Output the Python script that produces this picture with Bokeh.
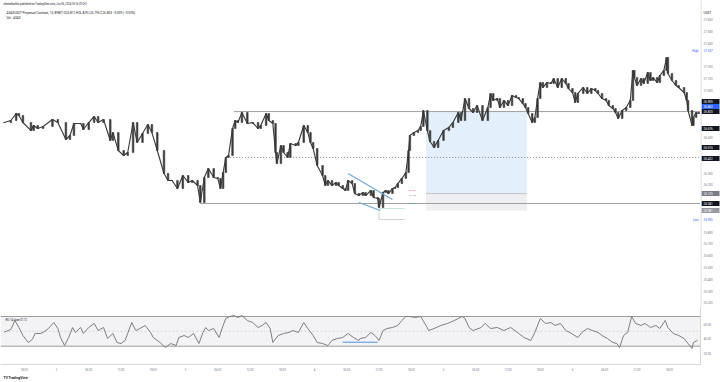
from bokeh.plotting import figure
from bokeh.models import (FixedTicker, Span, BoxAnnotation, Label, Title, Range1d,
                          ColumnDataSource, NumeralTickFormatter)
from bokeh.layouts import column, row
from bokeh.embed import file_html
from bokeh.resources import INLINE
from bokeh.core.properties import value

FONT = "Roboto"

# ---- price bars: hours from Jun 2 00:00, close prices (USDT) ----
bar_hours = [-9.75, -8.5, -7.5, -7.0, -6.25, -4.75, -4.25, -3.5, -2.5, -0.75,
             0.25, 1.75, 2.5, 3.25, 4.5, 5.0, 6.0, 7.0, 7.75, 8.75,
             10.0, 10.5, 11.5, 12.5, 13.25, 14.25, 15.0, 16.0, 17.0, 17.75,
             18.75, 20.0, 20.75, 21.5, 22.5, 23.5, 24.5, 25.25, 26.25, 26.75,
             27.5, 28.25, 29.25, 30.0, 30.5, 31.0, 31.5, 32.0, 32.75, 33.25,
             33.75, 34.5, 35.5, 36.5, 37.5, 38.0, 39.0, 39.5, 40.25, 40.75,
             41.0, 41.75, 42.25, 43.0, 43.5, 44.5, 45.0, 46.0, 46.75, 47.25,
             47.75, 48.5, 49.5, 50.0, 50.5, 51.25, 52.0, 52.5, 53.25, 53.75,
             54.25, 55.0, 55.5, 56.25, 57.0, 57.5, 58.5, 59.0, 59.75, 60.0,
             60.75, 61.25, 61.75, 62.5, 63.0, 63.5, 64.25, 65.0, 65.5, 65.75,
             66.5, 67.25, 67.75, 68.25, 69.0, 69.5, 70.25, 71.0, 72.0, 73.0,
             73.75, 74.75, 75.25, 76.0, 76.75, 77.5, 78.25, 79.25, 80.25, 80.75,
             81.25, 82.0, 82.5, 83.25, 84.0, 84.75, 85.5, 86.0, 86.75, 87.25,
             87.75, 88.5, 89.0, 89.5, 90.0, 90.5, 91.25, 92.0, 92.5, 93.25,
             94.0, 94.75, 95.25, 96.0, 96.5, 97.0, 98.0, 98.75, 99.5, 100.25,
             100.75, 101.5, 102.25, 102.75, 103.5, 104.0, 104.5, 105.25, 106.0, 106.75,
             107.25, 107.5, 108.0, 108.75, 109.25, 110.0, 110.5, 111.0, 111.75, 112.25,
             113.0, 113.5, 113.75, 114.5, 115.25, 115.75, 116.75, 117.25, 117.5, 118.25,
             118.5, 119.0, 119.5]
close = [26.727, 26.744, 26.803, 26.786, 26.727, 26.659, 26.702, 26.676, 26.693, 26.753,
         26.727, 26.583, 26.617, 26.719, 26.719, 26.668, 26.727, 26.778, 26.727, 26.753,
         26.575, 26.642, 26.490, 26.447, 26.473, 26.727, 26.558, 26.634, 26.710, 26.642,
         26.490, 26.295, 26.236, 26.236, 26.168, 26.278, 26.219, 26.236, 26.193, 26.049,
         26.261, 26.337, 26.261, 26.253, 26.168, 26.303, 26.431, 26.447, 26.676, 26.744,
         26.727, 26.812, 26.719, 26.727, 26.676, 26.702, 26.803, 26.744, 26.719, 26.473,
         26.380, 26.532, 26.473, 26.431, 26.549, 26.532, 26.558, 26.702, 26.642, 26.558,
         26.507, 26.363, 26.278, 26.193, 26.236, 26.193, 26.219, 26.193, 26.168, 26.151,
         26.236, 26.210, 26.125, 26.108, 26.134, 26.108, 26.151, 26.092, 26.083, 26.007,
         26.134, 26.151, 26.125, 26.168, 26.176, 26.210, 26.253, 26.303, 26.490, 26.617,
         26.642, 26.659, 26.693, 26.829, 26.659, 26.566, 26.515, 26.575, 26.659, 26.685,
         26.727, 26.812, 26.744, 26.930, 26.846, 26.812, 26.871, 26.744, 26.854, 26.973,
         26.914, 26.930, 26.854, 26.914, 26.871, 26.956, 26.939, 26.930, 26.888, 26.854,
         26.803, 26.727, 26.770, 26.930, 27.066, 27.024, 27.066, 27.058, 27.100, 27.024,
         27.100, 27.058, 27.015, 26.981, 26.897, 26.973, 27.024, 26.973, 27.015, 26.998,
         26.973, 26.930, 26.914, 26.871, 26.846, 26.812, 26.761, 26.829, 26.854, 26.914,
         27.168, 27.108, 27.041, 27.100, 27.058, 27.151, 27.083, 27.108, 27.066, 27.125,
         27.168, 27.278, 27.142, 27.083, 27.041, 27.024, 26.981, 26.914, 26.829, 26.702,
         26.770, 26.812, 26.803]

# ---- RSI(14) ----
rsi_hours = [-9.75, -8.5, -7.75, -7.0, -6.25, -5.25, -4.5, -4.0, -3.0, -2.5,
             -1.5, -0.5, 0.25, 0.75, 1.5, 2.25, 3.0, 3.5, 4.5, 5.0,
             6.0, 7.0, 7.75, 8.75, 9.5, 10.5, 11.25, 12.0, 12.75, 14.0,
             14.75, 15.5, 16.5, 17.5, 18.0, 19.25, 20.25, 21.25, 22.25, 22.75,
             23.75, 24.5, 25.5, 26.5, 27.25, 27.75, 28.25, 29.25, 30.25, 31.0,
             31.5, 32.25, 33.0, 33.75, 34.5, 35.5, 36.5, 37.5, 38.25, 39.0,
             39.75, 40.25, 41.25, 42.25, 43.25, 44.0, 45.0, 46.0, 46.75, 47.75,
             48.5, 49.5, 50.5, 51.25, 52.25, 53.25, 54.25, 55.25, 56.25, 56.5,
             57.5, 58.5, 59.25, 60.0, 60.75, 61.5, 62.5, 63.5, 64.25, 65.0,
             65.75, 66.75, 67.75, 68.75, 69.25, 70.25, 71.5, 72.75, 74.0, 74.75,
             75.5, 76.0, 76.75, 77.5, 79.0, 79.75, 80.75, 82.0, 83.25, 84.5,
             85.75, 87.0, 88.25, 89.0, 90.0, 91.0, 92.0, 92.75, 93.75, 94.75,
             95.5, 97.0, 97.75, 98.75, 99.75, 100.75, 101.5, 102.5, 103.5, 104.25,
             104.75, 105.5, 106.25, 107.0, 107.75, 108.75, 109.5, 110.5, 111.5, 112.25,
             113.25, 113.75, 114.75, 115.75, 116.75, 117.5, 118.25, 118.5, 119.25]
rsi = [48.9, 52.5, 64.6, 55.2, 44.4, 35.0, 39.0, 47.1, 47.1, 48.5,
       53.8, 61.9, 53.8, 41.7, 30.9, 41.7, 55.2, 48.5, 55.2, 47.1,
       55.2, 60.6, 51.1, 55.2, 40.4, 47.1, 35.0, 33.6, 37.7, 61.9,
       51.1, 53.8, 57.9, 48.5, 41.7, 35.0, 28.2, 33.6, 30.9, 41.7,
       44.4, 41.7, 47.1, 33.6, 48.5, 55.2, 51.1, 53.8, 41.7, 57.9,
       67.3, 70.0, 71.3, 68.7, 71.3, 64.6, 61.9, 55.2, 57.9, 61.9,
       53.8, 35.0, 44.4, 47.1, 48.5, 51.1, 48.5, 61.9, 53.8, 44.4,
       35.0, 33.6, 30.9, 37.7, 40.4, 41.7, 47.1, 41.7, 37.7, 40.4,
       41.7, 48.5, 44.4, 37.7, 51.1, 53.8, 55.2, 57.9, 64.6, 70.0,
       70.0, 68.7, 70.0, 57.9, 51.1, 53.8, 57.9, 60.6, 64.6, 67.3,
       70.0, 67.3, 55.2, 51.1, 55.2, 60.6, 53.8, 55.2, 51.1, 55.2,
       48.5, 41.7, 37.7, 48.5, 67.3, 60.6, 61.9, 57.9, 60.6, 51.1,
       48.5, 41.7, 48.5, 53.8, 51.1, 48.5, 44.4, 40.4, 35.0, 33.6,
       28.2, 44.4, 48.5, 70.0, 60.6, 57.9, 60.6, 55.2, 57.9, 53.8,
       64.6, 55.2, 47.1, 44.4, 40.4, 33.6, 26.9, 35.0, 37.7]
rsi_bands = [30, 50, 70]
rsi_ticks = [20, 40, 60]

# ---- axes ----
price_ticks = [27.6, 27.5, 27.4, 27.2, 27.1, 27.0, 26.6, 26.3, 26.2,
               25.8, 25.7, 25.6, 25.5, 25.4, 25.3, 25.2]
time_ticks = [-6, 0, 6, 12, 18, 24, 30, 36, 42, 48, 54, 60, 66, 72, 78, 84, 90, 96, 102, 108, 114]
time_labels = ["18:00", "2", "06:00", "12:00", "18:00", "3", "06:00", "12:00", "18:00", "4",
               "06:00", "12:00", "18:00", "5", "06:00", "12:00", "18:00", "6", "06:00", "12:00", "18:00"]

# ---- drawings ----
resistance = 26.820
resistance_from = 33.0
support = 26.041
support_from = 26.75
midline = 26.431
midline_from = 31.75
pos_from, pos_to = 68.75, 87.5
pos_target, pos_entry, pos_stop = 26.820, 26.125, 25.981
wedge_upper_t = [54.25, 62.5]
wedge_upper_p = [26.295, 26.075]
wedge_lower_t = [56.25, 60.25]
wedge_lower_p = [26.049, 25.981]
measure_t = [60.0, 64.75]
measure_low = 25.905
measure_high = 25.998
measure_labels = ["26.151", "26.108", "26.041"]
measure_label_p = [26.151, 26.108, 26.041]
measure_label_colors = ["#f23645", "#9598a1", "#089981"]
rsi_line_t = [53.25, 59.75]
rsi_line_v = [35.4, 35.4]

# right-axis price tags
tag_prices = [26.905, 26.863, 26.820, 26.676, 26.515, 26.422, 26.125, 26.041, 25.981]
tag_colors = ["#131722", "#2962ff", "#131722", "#131722", "#131722", "#131722",
              "#787b86", "#131722", "#9598a1"]
high_price = 27.337
low_price = 25.905

XR = Range1d(-10.419, 119.814)
YR = Range1d(25.168, 27.761)
GRAY = "#787b86"
AXIS_LINE = "#d6d6d6"


def style_axis(ax, size):
    ax.major_label_text_font_size = size
    ax.major_label_text_font = FONT
    ax.major_label_text_color = GRAY
    ax.major_tick_line_color = None
    ax.minor_tick_line_color = None
    ax.major_tick_out = 0
    ax.major_tick_in = 0
    ax.minor_tick_out = 0
    ax.minor_tick_in = 0
    ax.major_label_standoff = 3
    ax.axis_line_color = AXIS_LINE


# ================= main price pane =================
p = figure(frame_width=700, frame_height=306, x_range=XR, y_range=YR,
           output_backend="svg", toolbar_location=None, x_axis_location=None,
           y_axis_location=None, min_border_left=0, min_border_right=0,
           min_border_top=0, min_border_bottom=0, background_fill_color="white",
           border_fill_color="white", outline_line_color=None)
p.grid.visible = False

# position tool
p.quad(left=[pos_from], right=[pos_to], bottom=[pos_entry], top=[pos_target],
       fill_color="#e4effc", line_color=None)
p.quad(left=[pos_from], right=[pos_to], bottom=[pos_stop], top=[pos_entry],
       fill_color="#efeff1", line_color=None)
p.segment(x0=[pos_from], x1=[pos_to], y0=[pos_entry], y1=[pos_entry],
          line_color="#b8b8c0", line_width=0.8)

# horizontal levels
p.ray(x=[resistance_from, support_from], y=[resistance, support], length=0, angle=0,
      line_color="#8a8a8a", line_width=0.8)
p.ray(x=[midline_from], y=[midline], length=0, angle=0,
      line_color="#6a6a6a", line_width=0.8, line_dash="1 2")

# candles
opens = [close[0]] + close[:-1]
src = ColumnDataSource(dict(t=bar_hours, close=close, open=opens))
p.line("t", "close", source=src, line_color="#3c3c3c", line_width=1.15)
p.vbar(x="t", top="close", bottom="open", width=0.3, source=src,
       fill_color="#3a3a3a", line_color="#3a3a3a", line_width=0.6)

# wedge
p.line(wedge_upper_t, wedge_upper_p, line_color="#6fa8dc", line_width=1.2)
p.line(wedge_lower_t, wedge_lower_p, line_color="#6fa8dc", line_width=1.2)

# measurement marks
p.segment(x0=[measure_t[0]], x1=[measure_t[1]], y0=[measure_low], y1=[measure_low],
          line_color="#b0b0b0", line_width=0.6)
p.segment(x0=[measure_t[0]], x1=[measure_t[0]], y0=[measure_low], y1=[measure_high],
          line_color="#b0b0b0", line_width=0.6)
p.segment(x0=[measure_t[0]], x1=[measure_t[1]], y0=[measure_high], y1=[measure_high],
          line_color="#9fd3b8", line_width=0.6)
for txt, pr, col in zip(measure_labels, measure_label_p, measure_label_colors):
    p.add_layout(Label(x=measure_t[1] + 0.75, y=pr, text=txt, text_color=col,
                       text_font_size="2.4px", text_font=FONT, text_baseline="middle"))

for name, pr in (("High", high_price), ("Low", low_price)):
    p.add_layout(Label(x=698, x_units="screen", y=pr, text=name, text_color="#2962ff",
                       text_font_size="3px", text_font=FONT, text_baseline="middle",
                       text_align="right"))

# header texts
p.add_layout(Label(x=3, x_units="screen", y=302, y_units="screen",
                   text="ahmedbarkhs published on TradingView.com, Jun 06, 2024 18:16 UTC+3",
                   text_color="#131722", text_font_size="2.6px", text_font=FONT,
                   text_baseline="middle"))
p.add_layout(Label(x=6, x_units="screen", y=294, y_units="screen",
                   text="AVAXUSDT Perpetual Contract, 15, BYBIT   O26.812 H26.829 L26.795 C26.803 \u22120.009 (\u22120.03%)",
                   text_color="#131722", text_font_size="3.1px", text_font=FONT,
                   text_baseline="middle"))
p.add_layout(Label(x=6, x_units="screen", y=289, y_units="screen",
                   text="Vol \u00b7 AVAX",
                   text_color="#131722", text_font_size="3px", text_font=FONT,
                   text_baseline="middle"))

# ================= price scale strip (shares the price scale) =================
ps = figure(frame_width=20, frame_height=306, x_range=Range1d(0, 20), y_range=YR,
            output_backend="svg", toolbar_location=None, x_axis_location=None,
            y_axis_location=None, min_border_left=0, min_border_right=0,
            min_border_top=0, min_border_bottom=0, background_fill_color="white",
            border_fill_color="white", outline_line_color=None)
ps.grid.visible = False
ps.add_layout(Span(location=0.5, dimension="height", line_color=AXIS_LINE, line_width=1))
ps.text(x=[3] * len(price_ticks), y=price_ticks, text=[f"{v:.3f}" for v in price_ticks],
        text_font=value(FONT), text_font_size="3px", text_color=GRAY,
        text_baseline="middle", text_align="left")
ps.rect(x=[10] * len(tag_prices), y=tag_prices, width=18, height=5, height_units="screen",
        fill_color=tag_colors, line_color=None)
ps.text(x=[3] * len(tag_prices), y=tag_prices, text=[f"{v:.3f}" for v in tag_prices],
        text_font=value(FONT), text_font_size="3px", text_color="white",
        text_baseline="middle", text_align="left")
ps.text(x=[3, 3], y=[high_price, low_price], text=[f"{high_price:.3f}", f"{low_price:.3f}"],
        text_font=value(FONT), text_font_size="3px", text_color="#2962ff",
        text_baseline="middle", text_align="left")
ps.add_layout(Label(x=3, x_units="screen", y=294, y_units="screen", text="USDT",
                    text_color="#131722", text_font_size="3px", text_font=FONT,
                    text_baseline="middle"))

# ================= RSI pane =================
p2 = figure(frame_width=700, frame_height=58, x_range=XR, y_range=Range1d(5.35, 83.47),
            output_backend="svg", toolbar_location=None, y_axis_location="right",
            min_border_left=0, min_border_right=20, min_border_top=0, min_border_bottom=18,
            background_fill_color="white", border_fill_color="white", outline_line_color=None)
p2.grid.visible = False
p2.add_layout(BoxAnnotation(bottom=rsi_bands[0], top=rsi_bands[2], fill_color="#f3f3f6",
                            fill_alpha=1, line_color=None, level="underlay"))
for lv in (rsi_bands[0], rsi_bands[2]):
    p2.add_layout(Span(location=lv, dimension="width", line_color="#9c9c9c", line_width=1,
                       level="underlay"))
p2.add_layout(Span(location=rsi_bands[1], dimension="width", line_color="#d0d0d4",
                   line_width=0.8, line_dash="2 2", level="underlay"))
p2.line(rsi_hours, rsi, line_color="#7e7e7e", line_width=1)
p2.line(rsi_line_t, rsi_line_v, line_color="#4a90e2", line_width=1)
p2.add_layout(Label(x=5, x_units="screen", y=44, y_units="screen",
                    text="RSI 14 close  37.72", text_color="#131722",
                    text_font_size="2.6px", text_font=FONT, text_baseline="middle"))

y2 = p2.yaxis[0]
y2.ticker = FixedTicker(ticks=rsi_ticks)
y2.formatter = NumeralTickFormatter(format="0.00")
style_axis(y2, "3px")

x2 = p2.xaxis[0]
x2.ticker = FixedTicker(ticks=time_ticks)
x2.major_label_overrides = {t: lab for t, lab in zip(time_ticks, time_labels)}
style_axis(x2, "2.8px")

p2.add_layout(Title(text="TV TradingView", align="left", text_font_size="3.4px",
                    text_font=FONT, text_color="#131722", offset=3, standoff=0), "below")

layout = column(row(p, ps, spacing=0), p2, spacing=0)
open("out.html", "w").write(file_html(layout, INLINE))
